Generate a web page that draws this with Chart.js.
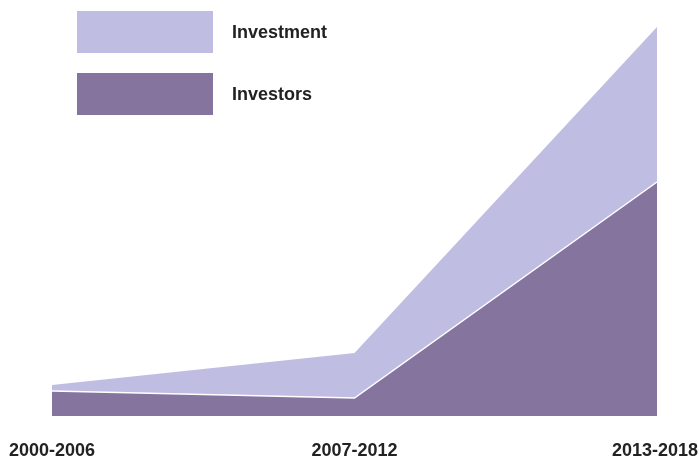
<!DOCTYPE html>
<html>
<head>
<meta charset="utf-8">
<script src="https://cdn.jsdelivr.net/npm/chart.js@4.4.0/dist/chart.umd.min.js"></script>
<style>
html,body{margin:0;padding:0;background:#fff;}
#wrap{width:699px;height:459px;position:relative;}
</style>
</head>
<body>
<div id="wrap"><canvas id="c"></canvas></div>
<script>
const categories = ["2000-2006", "2007-2012", "2013-2018"];
const investmentTotal = [31, 63, 389];
const investors = [25, 18, 234];
const seriesNames = ["Investment", "Investors"];
const colors = { investment: "#c0bde3", investors: "#84749e" };

const FONT = "'Liberation Sans', Arial, Helvetica, sans-serif";

const labelsPlugin = {
  id: 'bottomLabels',
  afterDraw(chart) {
    const ctx = chart.ctx;
    const xs = chart.scales.x;
    ctx.save();
    ctx.font = "bold 18px " + FONT;
    ctx.fillStyle = "#222";
    ctx.textAlign = "center";
    ctx.textBaseline = "middle";
    categories.forEach((c, i) => {
      let x = xs.getPixelForValue(i);
      const w = ctx.measureText(c).width;
      x = Math.max(w / 2 + 9, Math.min(chart.width - w / 2 - 1, x));
      ctx.fillText(c, x, 451);
    });
    ctx.restore();
  }
};

const legendPlugin = {
  id: 'boxLegend',
  afterDraw(chart) {
    const ctx = chart.ctx;
    ctx.save();
    const items = [
      { name: seriesNames[0], color: colors.investment, y: 11 },
      { name: seriesNames[1], color: colors.investors, y: 73 }
    ];
    ctx.font = "bold 18px " + FONT;
    ctx.textBaseline = "middle";
    ctx.textAlign = "left";
    items.forEach(it => {
      ctx.fillStyle = it.color;
      ctx.fillRect(77, it.y, 136, 42);
      ctx.fillStyle = "#222";
      ctx.fillText(it.name, 232, it.y + 22);
    });
    ctx.restore();
  }
};

new Chart(document.getElementById('c'), {
  type: 'line',
  data: {
    labels: categories,
    datasets: [
      {
        label: seriesNames[1],
        data: investors,
        backgroundColor: colors.investors,
        borderColor: "#ffffff",
        borderWidth: 1.5,
        pointRadius: 0,
        fill: 'origin',
        tension: 0,
        order: 1
      },
      {
        label: seriesNames[0],
        data: investmentTotal,
        backgroundColor: colors.investment,
        borderColor: colors.investment,
        borderWidth: 0,
        pointRadius: 0,
        fill: 'origin',
        tension: 0,
        order: 2
      }
    ]
  },
  options: {
    responsive: true,
    maintainAspectRatio: false,
    animation: false,
    layout: { padding: { left: 52, right: 42, top: 27, bottom: 43 } },
    plugins: { legend: { display: false }, tooltip: { enabled: false } },
    scales: {
      x: { display: false, offset: false },
      y: { display: false, min: 0, max: 389 }
    }
  },
  plugins: [labelsPlugin, legendPlugin]
});
</script>
</body>
</html>
